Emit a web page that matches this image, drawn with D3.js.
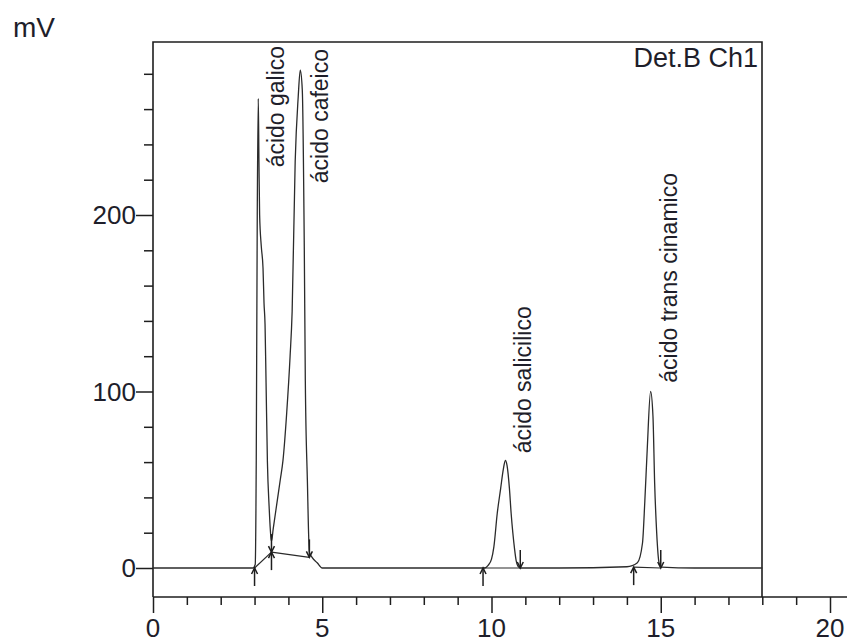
<!DOCTYPE html>
<html>
<head>
<meta charset="utf-8">
<script src="https://cdn.jsdelivr.net/npm/d3@7"></script>
<style>
  html, body { margin: 0; padding: 0; background: #fff; }
  svg { display: block; }
  text { font-family: "Liberation Sans", Arial, sans-serif; fill: #1e1e2a; }
</style>
</head>
<body>
<svg id="chart" width="847" height="642"></svg>
<script>
// ---- data ----
const traceTime = [0, 1, 2, 2.95, 3.02, 3.05, 3.08, 3.11, 3.13, 3.15, 3.2, 3.25, 3.28, 3.31, 3.34, 3.38, 3.43, 3.48, 3.5,
  3.55, 3.67, 3.76, 3.84, 3.95, 4.05, 4.11, 4.2, 4.29, 4.35, 4.41, 4.47, 4.5, 4.56, 4.62, 4.7, 4.85, 5.0, 7, 9.8,
  9.9, 10.0, 10.07, 10.17, 10.27, 10.35, 10.41, 10.46, 10.53, 10.58, 10.63, 10.68, 10.73, 10.78, 10.85, 12,
  14.0, 14.31, 14.46, 14.53, 14.6, 14.7, 14.77, 14.82, 14.88, 14.95, 15.02, 16, 18];
const traceMV = [0, 0, 0, 0, 2, 60, 200, 266, 230, 200, 182, 170, 150, 138, 105, 60, 35, 18, 15,
  22, 38, 50, 61, 88, 120, 145, 230, 267, 282, 271, 180, 106, 50, 9, 6, 3, 0, 0, 0,
  1.5, 5, 12, 31, 45, 56, 61, 58, 45, 31, 20, 11, 4, 1, 0, 0,
  0.7, 3, 14, 38, 67, 100, 86, 48, 20, 3, 0.5, 0, 0];

// integration baselines [t0, mV0, t1, mV1]
const baselineSegs = [[3.0, 0, 3.5, 9], [3.5, 9, 4.62, 6], [9.75, 0, 10.85, 0], [14.2, 0.5, 15.0, 0]];

// peak markers
const markerTime = [3.0, 3.5, 4.62, 9.75, 10.85, 14.2, 15.0];
const markerMV   = [0, 9, 6, 0, 0, 0.5, 0];
const markerKind = ["start", "both", "end", "start", "end", "start", "end"];

// peak names and where their labels sit (time, mV of label start)
const peakNames = ["ácido galico", "ácido cafeico", "ácido salicilico", "ácido trans cinamico"];
const peakLabelTime = [3.87, 5.17, 11.17, 15.48];
const peakLabelMV = [227, 218, 65, 105];

const xTicksMajor = [0, 5, 10, 15, 20];
const yTicksMajor = [0, 100, 200];
const yLabel = "mV";
const channelLabel = "Det.B Ch1";

// ---- layout ----
const svg = d3.select("#chart");
const frameL = 153, frameT = 42, frameR = 762, axisY = 597;

const x = d3.scaleLinear().domain([0, 20]).range([153, 830]);
const y = d3.scaleLinear().domain([0, 200]).range([568, 215]);

const ink = "#1e1e1e";

// frame (left, top, right)
svg.append("path")
  .attr("d", `M${frameL},${axisY}V${frameT}H${frameR}V${axisY}`)
  .attr("fill", "none").attr("stroke", ink).attr("stroke-width", 1.6);

// x axis
const xAxis = d3.axisBottom(x).tickValues(d3.range(0, 21, 1)).tickSize(8).tickFormat("");
const gx = svg.append("g").attr("transform", `translate(0,${axisY})`).call(xAxis);
gx.select(".domain").remove();
gx.selectAll(".tick line").attr("stroke", ink).attr("stroke-width", 1.5)
  .attr("y2", d => (d % 5 === 0 ? 16 : 8));
svg.append("line").attr("x1", frameL).attr("x2", 847).attr("y1", axisY).attr("y2", axisY)
  .attr("stroke", ink).attr("stroke-width", 1.6);
svg.append("g").selectAll("text").data(xTicksMajor).join("text")
  .attr("x", d => x(d)).attr("y", 637).attr("text-anchor", "middle")
  .attr("font-size", 26).text(d => d);

// y axis
const yAxis = d3.axisLeft(y).tickValues(d3.range(0, 281, 20)).tickSize(8).tickFormat("");
const gy = svg.append("g").attr("transform", `translate(${frameL},0)`).call(yAxis);
gy.select(".domain").remove();
gy.selectAll(".tick line").attr("stroke", ink).attr("stroke-width", 1.5)
  .attr("x2", d => (d % 100 === 0 ? -17 : -9));
svg.append("g").selectAll("text").data(yTicksMajor).join("text")
  .attr("x", 136).attr("y", d => y(d)).attr("dy", "0.36em").attr("text-anchor", "end")
  .attr("font-size", 26).text(d => d);

svg.append("text").attr("x", 13).attr("y", 37).attr("font-size", 28).text(yLabel);
svg.append("text").attr("x", 758).attr("y", 67).attr("text-anchor", "end")
  .attr("font-size", 27).text(channelLabel);

// integration baselines
svg.append("g").selectAll("line").data(baselineSegs).join("line")
  .attr("x1", d => x(d[0])).attr("y1", d => y(d[1]))
  .attr("x2", d => x(d[2])).attr("y2", d => y(d[3]))
  .attr("stroke", "#2a2a2a").attr("stroke-width", 1.2);

// trace
const pts = traceTime.map((t, i) => [t, traceMV[i]]);
const line = d3.line().x(d => x(d[0])).y(d => y(d[1])).curve(d3.curveMonotoneX);
svg.append("path").datum(pts).attr("d", line)
  .attr("fill", "none").attr("stroke", "#2b2b2b").attr("stroke-width", 1.3)
  .attr("stroke-linejoin", "round");

// peak markers
const mk = svg.append("g").attr("stroke", ink).attr("stroke-width", 1.5).attr("fill", "none");
markerTime.forEach((t, i) => {
  const px = x(t), py = y(markerMV[i]), k = markerKind[i];
  if (k === "start" || k === "both") {
    mk.append("line").attr("x1", px).attr("x2", px).attr("y1", py).attr("y2", py + 18);
    mk.append("path").attr("d", `M${px - 3},${py + 6}L${px},${py}L${px + 3},${py + 6}`);
  }
  if (k === "end" || k === "both") {
    mk.append("line").attr("x1", px).attr("x2", px).attr("y1", py - 18).attr("y2", py);
    mk.append("path").attr("d", `M${px - 3},${py - 6}L${px},${py}L${px + 3},${py - 6}`);
  }
});

// peak labels
svg.append("g").selectAll("text").data(peakNames).join("text")
  .attr("transform", (d, i) => `translate(${x(peakLabelTime[i])},${y(peakLabelMV[i])}) rotate(-90)`)
  .attr("font-size", 23).text(d => d);
</script>
</body>
</html>
